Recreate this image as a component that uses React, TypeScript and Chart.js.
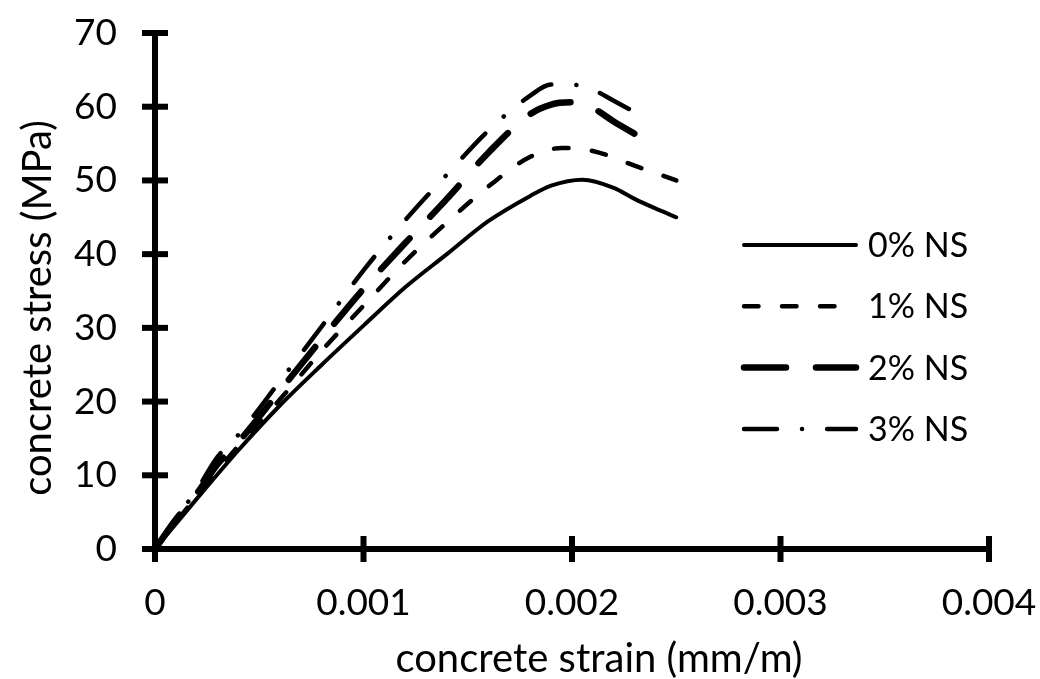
import React, { useEffect, useRef } from 'react';
import { Chart, registerables } from 'chart.js';

Chart.register(...registerables);

// ---- data ----
const seriesLabels = ['0% NS', '1% NS', '2% NS', '3% NS'];

const strain0 = [0, 0.0002, 0.0004, 0.0006, 0.0008, 0.001, 0.0012, 0.0014, 0.0016, 0.0018, 0.0019, 0.00205, 0.0022, 0.0023, 0.0024, 0.0025];
const stress0 = [0, 6.8, 13.4, 19.5, 25, 30.3, 35.5, 40, 44.5, 47.9, 49.3, 50.1, 49.0, 47.5, 46.2, 45];

const strain1 = [0, 0.0002, 0.0004, 0.0006, 0.0008, 0.001, 0.0012, 0.0014, 0.0016, 0.0018, 0.00195, 0.0021, 0.0023, 0.0025];
const stress1 = [0, 7.2, 14, 20.3, 26.9, 33, 39, 44.3, 49.2, 53.2, 54.4, 54, 52, 50];

const strain2 = [0, 0.0001, 0.0002, 0.0003, 0.0004, 0.0006, 0.0008, 0.001, 0.0012, 0.0014, 0.0016, 0.0018, 0.0019, 0.002, 0.0021, 0.0022, 0.00232];
const stress2 = [0, 4, 7.5, 11.5, 14.5, 21.5, 28.5, 35.3, 41.5, 47.5, 53.8, 59, 60.3, 60.6, 59.8, 58, 56];

const strain3 = [0, 0.0001, 0.0002, 0.0003, 0.0004, 0.0006, 0.0008, 0.001, 0.0012, 0.0014, 0.0016, 0.0018, 0.0019, 0.002, 0.0021, 0.0022, 0.00235];
const stress3 = [0, 4.2, 8, 12.5, 15.5, 22.8, 30.2, 37.8, 44.6, 50.8, 56.8, 61.5, 63, 63, 62.3, 60.8, 58.5];

const xTickValues = [0, 0.001, 0.002, 0.003, 0.004];
const xTickLabels = ['0', '0.001', '0.002', '0.003', '0.004'];
const yTickValues = [0, 10, 20, 30, 40, 50, 60, 70];
const yTickLabels = ['0', '10', '20', '30', '40', '50', '60', '70'];

const xTitle = 'concrete strain (mm/m)';
const yTitle = 'concrete stress (MPa)';

const FONT = 'Lato, "Open Sans", "DejaVu Sans", sans-serif';
const TICK_SIZE = 37;
const TITLE_SIZE = 40;
const LEGEND_SIZE = 34;

const toPoints = (xs: number[], ys: number[]) => xs.map((x, i) => ({ x, y: ys[i] }));

export default function App() {
  const ref = useRef<HTMLCanvasElement | null>(null);

  useEffect(() => {
    document.body.style.margin = '0';
    const canvas = ref.current;
    if (!canvas) return;

    const crossTicks = {
      id: 'crossTicks',
      afterDraw(chart: any) {
        const c = chart.ctx;
        const xs = chart.scales.x;
        const ys = chart.scales.y;
        const ax = chart.chartArea.left;
        const ay = chart.chartArea.bottom;
        c.save();
        c.strokeStyle = '#000';
        c.lineWidth = 6;
        c.lineCap = 'butt';
        ys.ticks.forEach((t: any) => {
          const p = ys.getPixelForValue(t.value);
          c.beginPath();
          c.moveTo(ax - 13, p);
          c.lineTo(ax + 13, p);
          c.stroke();
        });
        xs.ticks.forEach((t: any) => {
          const p = xs.getPixelForValue(t.value);
          c.beginPath();
          c.moveTo(p, ay - 13);
          c.lineTo(p, ay + 13);
          c.stroke();
        });
        c.restore();
      },
    };

    const sideLegend = {
      id: 'sideLegend',
      afterDraw(chart: any) {
        const c = chart.ctx;
        const area = chart.chartArea;
        chart.data.datasets.forEach((ds: any, i: number) => {
          const y = area.top + 212 + i * 61.3;
          const x0 = area.right - 245;
          const x1 = area.right - 133;
          c.save();
          c.strokeStyle = '#000';
          c.lineWidth = ds.borderWidth;
          c.lineCap = ds.borderCapStyle || 'butt';
          c.setLineDash(ds.borderDash || []);
          c.beginPath();
          c.moveTo(x0, y);
          c.lineTo(x1, y);
          c.stroke();
          c.setLineDash([]);
          c.fillStyle = '#000';
          c.font = `${LEGEND_SIZE}px ${FONT}`;
          c.textBaseline = 'middle';
          c.textAlign = 'left';
          c.fillText(ds.label, area.right - 121, y + 1);
          c.restore();
        });
      },
    };

    const axisTitles = {
      id: 'axisTitles',
      afterDraw(chart: any) {
        const c = chart.ctx;
        const area = chart.chartArea;
        c.save();
        c.fillStyle = '#000';
        c.font = `${TITLE_SIZE}px ${FONT}`;
        c.textBaseline = 'middle';
        c.textAlign = 'center';
        c.fillText(xTitle, (area.left + area.right) / 2 + 27, chart.height - 20);
        c.translate(38, (area.top + area.bottom) / 2 + 17);
        c.rotate(-Math.PI / 2);
        c.fillText(yTitle, 0, 0);
        c.restore();
      },
    };

    const common = {
      borderColor: '#000',
      backgroundColor: '#000',
      pointRadius: 0,
      fill: false,
      cubicInterpolationMode: 'monotone' as const,
    };

    const zeroPad = (scale: any) => {
      scale.paddingTop = 0;
      scale.paddingBottom = 0;
      scale.paddingLeft = 0;
      scale.paddingRight = 0;
    };

    const chart = new Chart(canvas, {
      type: 'line',
      data: {
        datasets: [
          { ...common, label: seriesLabels[0], data: toPoints(strain0, stress0), borderWidth: 4, borderDash: [], borderCapStyle: 'round' },
          { ...common, label: seriesLabels[1], data: toPoints(strain1, stress1), borderWidth: 4.5, borderDash: [14.5, 23.5], borderCapStyle: 'round' },
          { ...common, label: seriesLabels[2], data: toPoints(strain2, stress2), borderWidth: 6.5, borderDash: [42, 30], borderCapStyle: 'round' },
          { ...common, label: seriesLabels[3], data: toPoints(strain3, stress3), borderWidth: 4.5, borderDash: [33, 25, 0.1, 25], borderCapStyle: 'round' },
        ] as any,
      },
      plugins: [crossTicks, sideLegend, axisTitles],
      options: {
        animation: false,
        responsive: false,
        devicePixelRatio: 1,
        layout: { padding: { top: 33, right: 51, left: 0, bottom: 0 } },
        plugins: {
          legend: { display: false },
          tooltip: { enabled: false },
        },
        scales: {
          x: {
            type: 'linear',
            min: 0,
            max: 0.004,
            afterBuildTicks: (scale: any) => {
              scale.ticks = xTickValues.map((v) => ({ value: v }));
            },
            afterFit: (scale: any) => {
              scale.height = 130;
              zeroPad(scale);
            },
            grid: { display: false, drawTicks: false },
            border: { display: true, color: '#000', width: 6 },
            ticks: {
              color: '#000',
              font: { family: FONT, size: TICK_SIZE },
              padding: 32,
              maxRotation: 0,
              callback: (_v: any, i: number) => xTickLabels[i],
            },
          },
          y: {
            type: 'linear',
            min: 0,
            max: 70,
            afterBuildTicks: (scale: any) => {
              scale.ticks = yTickValues.map((v) => ({ value: v }));
            },
            afterFit: (scale: any) => {
              scale.width = 155;
              zeroPad(scale);
            },
            grid: { display: false, drawTicks: false },
            border: { display: true, color: '#000', width: 6 },
            ticks: {
              color: '#000',
              font: { family: FONT, size: TICK_SIZE },
              padding: 38,
              callback: (_v: any, i: number) => yTickLabels[i],
            },
          },
        },
      } as any,
    });

    return () => chart.destroy();
  }, []);

  return (
    <div style={{ width: 1040, height: 679, background: '#fff' }}>
      <canvas ref={ref} width={1040} height={679} style={{ display: 'block' }} />
    </div>
  );
}
